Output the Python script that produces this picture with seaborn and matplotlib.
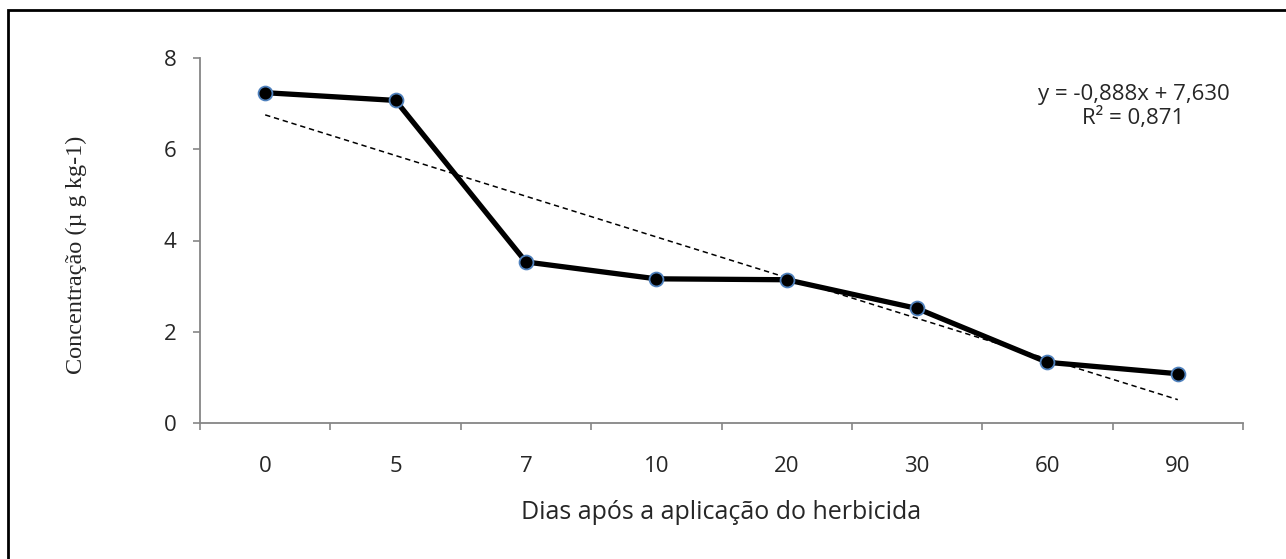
import numpy as np
import matplotlib
matplotlib.use("Agg")
import matplotlib.pyplot as plt
import matplotlib.patches as patches
import seaborn as sns

# data
dias = ['0', '5', '7', '10', '20', '30', '60', '90']
concentracao = [7.24, 7.07, 3.53, 3.16, 3.14, 2.51, 1.33, 1.08]
eq_text = 'y = -0,888x + 7,630'
r2_text = 'R² = 0,871'

sns.set_style('white')
plt.rcParams['font.family'] = ['Open Sans', 'DejaVu Sans']

fig = plt.figure(figsize=(12.86, 5.59), dpi=100)
ax = fig.add_axes([200/1286, 1-423/559, 1043/1286, (423-58)/559])

pos = np.arange(len(dias))
axis_grey = '#868686'
fs = 16

# linear trend (Excel style), fitted on category index
sns.regplot(x=pos, y=concentracao, scatter=False, ci=None, truncate=True, ax=ax,
            line_kws=dict(color='black', lw=1.1, ls=(0, (3.5, 2.5))))

sns.lineplot(x=pos, y=concentracao, ax=ax, color='black', lw=3.8,
             marker='o', markersize=10, markerfacecolor='black',
             markeredgecolor='#4F81BD', markeredgewidth=1.3)

ax.set_xlim(-0.5, len(dias) - 0.5)
ax.set_ylim(0, 8)
ax.set_yticks([0, 2, 4, 6, 8])
ax.tick_params(axis='y', which='major', left=True, length=5, width=1.2,
               color=axis_grey, pad=12, labelsize=fs)

# ticks between categories, labels centred in each category
ax.set_xticks(np.arange(-0.5, len(dias), 1.0))
ax.set_xticklabels([])
ax.set_xticks(pos, minor=True)
ax.set_xticklabels(dias, minor=True)
ax.tick_params(axis='x', which='major', bottom=True, length=5, width=1.2,
               color=axis_grey)
ax.tick_params(axis='x', which='minor', bottom=True, length=0, pad=24,
               labelsize=fs)

for side in ['top', 'right']:
    ax.spines[side].set_visible(False)
for side in ['left', 'bottom']:
    ax.spines[side].set_color(axis_grey)
    ax.spines[side].set_linewidth(1.3)

ax.set_xlabel('Dias após a aplicação do herbicida', fontsize=18, labelpad=16)
ax.set_ylabel('Concentração (µ g kg-1)', fontsize=17.5,
              family=['Liberation Serif', 'DejaVu Serif'])
ax.yaxis.set_label_coords(-0.108, 0.46)

ax.text(0.895, 0.9, eq_text, transform=ax.transAxes, ha='center', va='center', fontsize=fs)
ax.text(0.895, 0.835, r2_text, transform=ax.transAxes, ha='center', va='center', fontsize=fs)

# outer chart frame
fig.patches.append(patches.Rectangle((8/1286, -0.1), 1.2, 1 - 10/559 + 0.1,
                                     transform=fig.transFigure, fill=False,
                                     edgecolor='black', lw=2))

fig.savefig('out.png', dpi=100)
